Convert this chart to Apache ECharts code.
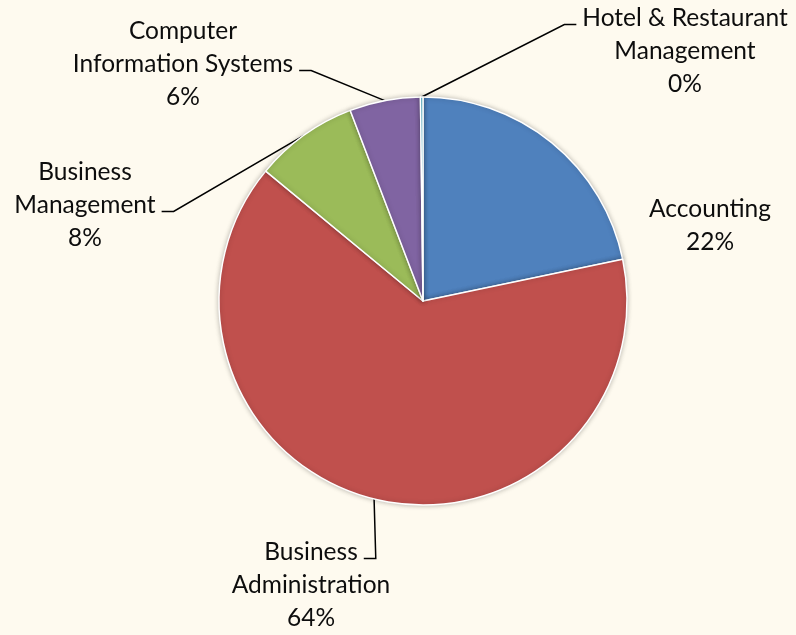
<!DOCTYPE html>
<html>
<head>
<meta charset="utf-8">
<script src="https://cdn.jsdelivr.net/npm/echarts@6/dist/echarts.min.js"></script>
<style>
  html, body { margin: 0; padding: 0; background: #FEFAEF; }
  #chart { width: 796px; height: 635px; }
</style>
</head>
<body>
<div id="chart"></div>
<script>
// data
const categories = ['Accounting', 'Business Administration', 'Business Management', 'Computer Information Systems', 'Hotel & Restaurant Management']
const labelNames = ['Accounting', 'Business\nAdministration', 'Business\nManagement', 'Computer\nInformation Systems', 'Hotel & Restaurant\nManagement']
const shares = [21.7, 64.2, 8.2, 5.6, 0.2]
const colors = ['#4F81BD', '#C0504D', '#9BBB59', '#8064A2', '#4BACC6']

// label placement (top-centre of each label block) and which text row the leader joins
const labelBoxes = [[710, 193], [311, 536], [85, 156], [183, 15], [685, 2]]
const leaderRow = [null, 0, 1, 1, 0]

const FONT_SIZE = 24.5
const LINE_H = 33
const FONT = FONT_SIZE + 'px Lato'

const ctx = document.createElement('canvas').getContext('2d')
ctx.font = FONT

const chart = echarts.init(document.getElementById('chart'))

const option = {
  backgroundColor: '#FEFAEF',
  animation: false,
  color: colors,
  series: [
    {
      type: 'pie',
      center: [423, 301],
      radius: 204,
      startAngle: 90,
      clockwise: true,
      avoidLabelOverlap: false,
      percentPrecision: 0,
      itemStyle: {
        borderColor: '#ffffff',
        borderWidth: 1.5,
        shadowBlur: 5,
        shadowColor: 'rgba(0,0,0,0.25)',
      },
      label: {
        show: true,
        position: 'outside',
        formatter: (p) => labelNames[p.dataIndex] + '\n' + p.percent + '%',
        fontFamily: 'Lato',
        fontSize: FONT_SIZE,
        lineHeight: LINE_H,
        color: '#0d0d0d',
        align: 'center',
      },
      labelLine: {
        show: true,
        lineStyle: { color: '#000', width: 1.5 },
      },
      emphasis: { disabled: true },
      labelLayout: function (p) {
        const i = p.dataIndex
        const pos = labelBoxes[i]
        const res = { x: pos[0], y: pos[1], align: 'center', verticalAlign: 'top' }
        const row = leaderRow[i]
        if (row == null || !p.labelLinePoints) return res
        const lines = labelNames[i].split('\n')
        const w = ctx.measureText(lines[row]).width
        const start = p.labelLinePoints[0]
        const side = pos[0] < start[0] ? 1 : -1
        const ex = pos[0] + side * (w / 2 + 6)
        const ey = pos[1] + LINE_H * (row + 0.5) + 6
        res.labelLinePoints = [start, [ex + side * 12, ey], [ex, ey]]
        return res
      },
      data: categories.map((name, i) => ({
        name: name,
        value: shares[i],
        labelLine: { show: leaderRow[i] != null },
      })),
    },
  ],
}

chart.setOption(option)
</script>
</body>
</html>
